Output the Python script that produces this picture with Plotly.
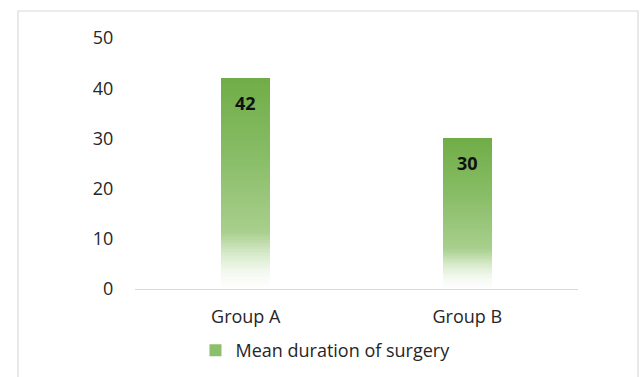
import plotly.graph_objects as go

categories = ["Group A", "Group B"]
values = [42, 30]
series_name = "Mean duration of surgery"
y_ticks = [0, 10, 20, 30, 40, 50]

# gradient stops: fraction of bar height from bottom -> rgb
stops = [(0.0, (255, 255, 255)), (0.08, (244, 249, 240)), (0.17, (214, 233, 201)),
         (0.27, (168, 207, 141)), (0.6, (138, 190, 105)), (1.0, (112, 173, 71))]


def grad(f):
    for (f0, c0), (f1, c1) in zip(stops[:-1], stops[1:]):
        if f0 <= f <= f1:
            t = (f - f0) / (f1 - f0)
            return "rgb(%d,%d,%d)" % tuple(round(a + (b - a) * t) for a, b in zip(c0, c1))
    return "rgb(%d,%d,%d)" % stops[-1][1]


N = 90
W = 641
H = 377
L, R, T, B = 135, 63, 38, 88
pw, ph = W - L - R, H - T - B
TXT = "#262626"

fig = go.Figure()
for i in range(N):
    f = (i + 0.5) / N
    fig.add_trace(go.Bar(
        x=categories,
        y=[v / N * 1.02 for v in values] if i < N - 1 else [v / N for v in values],
        base=[v * i / N for v in values],
        width=0.22,
        marker=dict(color=grad(f), line=dict(width=0)),
        showlegend=False, hoverinfo="skip",
    ))

fig.add_trace(go.Bar(
    x=categories, y=[0, 0], name=series_name, width=0.22,
    marker=dict(color="rgb(140,191,108)", line=dict(width=0)),
    showlegend=True, hoverinfo="skip",
))

for c, v in zip(categories, values):
    fig.add_annotation(x=c, y=v, text="<b>%d</b>" % v, showarrow=False,
                       yanchor="top", yshift=-11,
                       font=dict(size=18, color="#111111", family="Open Sans"))

# outer chart border
fig.add_shape(type="rect", xref="paper", yref="paper",
              x0=(18 - L) / pw, x1=(638 - L) / pw,
              y0=-(B + 30) / ph, y1=(ph + T - 11) / ph,
              line=dict(color="#D9D9D9", width=1.2), layer="below")

fig.update_layout(
    width=W, height=H,
    margin=dict(l=L, r=R, t=T, b=B, autoexpand=False),
    paper_bgcolor="white", plot_bgcolor="white",
    barmode="overlay",
    bargap=0,
    font=dict(family="Open Sans", size=18, color=TXT),
    showlegend=True,
    legend=dict(orientation="h", x=0.43, xanchor="center", y=-0.245, yanchor="middle",
                font=dict(size=18, color=TXT), itemwidth=30),
    xaxis=dict(showline=True, linecolor="#D9D9D9", linewidth=1, showgrid=False,
               ticks="outside", ticklen=11, tickcolor="white", zeroline=False,
               tickfont=dict(size=18, color=TXT)),
    yaxis=dict(range=[0, 50], tickvals=y_ticks, showline=False, showgrid=False,
               zeroline=False, ticks="outside", ticklen=17, tickcolor="white",
               tickfont=dict(size=18, color=TXT)),
)

fig.write_html("out.html")
